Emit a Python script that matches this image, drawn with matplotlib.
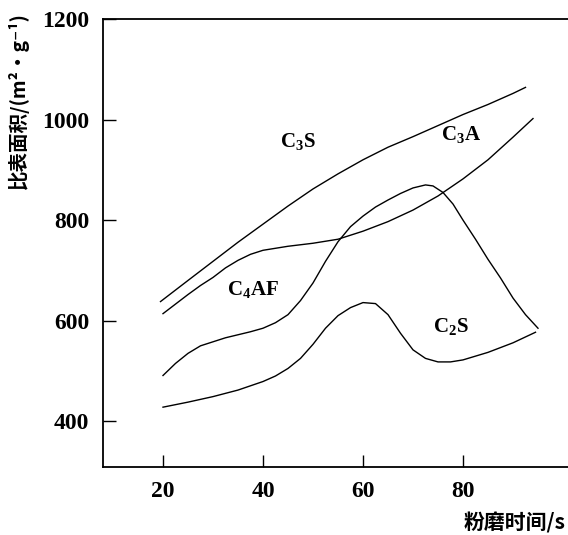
import matplotlib
matplotlib.use('Agg')
import matplotlib.pyplot as plt

# grinding time (s) vs specific surface area (m2/g)
c3s_x = [19.5, 25, 30, 35, 40, 45, 50, 55, 60, 65, 70, 75, 80, 85, 90, 92.5]
c3s_y = [638, 680, 718, 756, 792, 828, 862, 892, 920, 945, 966, 988, 1010, 1030, 1052, 1064]

c3a_x = [20, 22.5, 25, 27.5, 30, 32.5, 35, 37.5, 40, 45, 50, 55, 60, 65, 70, 75, 80, 85, 90, 94]
c3a_y = [614, 633, 652, 670, 686, 705, 720, 732, 740, 748, 754, 762, 778, 797, 820, 848, 882, 920, 965, 1002]

c4af_x = [20, 22.5, 25, 27.5, 30, 32.5, 35, 37.5, 40, 42.5, 45, 47.5, 50, 52.5, 55, 57.5, 60,
          62.5, 65, 67.5, 70, 72.5, 74, 76, 78, 80, 82.5, 85, 87.5, 90, 92.5, 95]
c4af_y = [491, 515, 535, 550, 558, 566, 572, 578, 585, 596, 612, 640, 675, 718, 757, 787, 808,
          826, 840, 853, 864, 870, 868, 855, 832, 800, 762, 722, 685, 645, 612, 585]

c2s_x = [20, 25, 30, 35, 40, 42.5, 45, 47.5, 50, 52.5, 55, 57.5, 60, 62.5, 65, 67.5, 70,
         72.5, 75, 77.5, 80, 85, 90, 94.5]
c2s_y = [428, 438, 449, 462, 479, 490, 505, 525, 553, 585, 610, 626, 636, 634, 612, 575, 542,
         525, 518, 518, 522, 537, 556, 577]

labels = [r'C$_3$S', r'C$_3$A', r'C$_4$AF', r'C$_2$S']
label_pos = [(47, 957), (79.5, 970), (38, 663), (77.6, 588)]

x_ticks = [20, 40, 60, 80]
y_ticks = [400, 600, 800, 1000, 1200]

plt.rcParams['mathtext.fontset'] = 'custom'
plt.rcParams['mathtext.rm'] = 'Liberation Serif:bold'
plt.rcParams['mathtext.it'] = 'Liberation Serif:bold'
plt.rcParams['mathtext.bf'] = 'Liberation Serif:bold'

fig = plt.figure(figsize=(5.68, 5.35), dpi=100)
ax = fig.add_axes([103 / 568, 1 - 467 / 535, 1 - 103 / 568, (467 - 19) / 535])

for xs, ys in [(c3s_x, c3s_y), (c3a_x, c3a_y), (c4af_x, c4af_y), (c2s_x, c2s_y)]:
    ax.plot(xs, ys, color='black', linewidth=1.0)

for txt, (lx, ly) in zip(labels, label_pos):
    ax.text(lx, ly, txt, ha='center', va='center', fontsize=15,
            fontfamily='Liberation Serif', fontweight='bold')

ax.set_xlim(8, 101)
ax.set_ylim(309, 1200)
ax.set_xticks(x_ticks)
ax.set_yticks(y_ticks)
ax.tick_params(direction='in', length=9, width=1, pad=10)
for lab in ax.get_xticklabels() + ax.get_yticklabels():
    lab.set_fontfamily('Liberation Serif')
    lab.set_fontweight('bold')
    lab.set_fontsize(17)

ax.spines['right'].set_visible(False)
for s in ['left', 'bottom', 'top']:
    ax.spines[s].set_linewidth(1.3)
    ax.spines[s].set_color('black')
ax.spines['top'].set_zorder(10)

fig.text(18 / 568, 1 - 101 / 535, '比表面积/(m²·g⁻¹)', rotation=90, ha='center', va='center',
         fontsize=14, fontweight='bold', family=['Noto Sans CJK SC', 'DejaVu Sans'])
fig.text(566 / 568, 1 - 523 / 535, '粉磨时间/s', ha='right', va='center',
         fontsize=15, fontweight='bold', family=['Noto Sans CJK SC', 'DejaVu Sans'])

fig.savefig('out.png', dpi=100)
